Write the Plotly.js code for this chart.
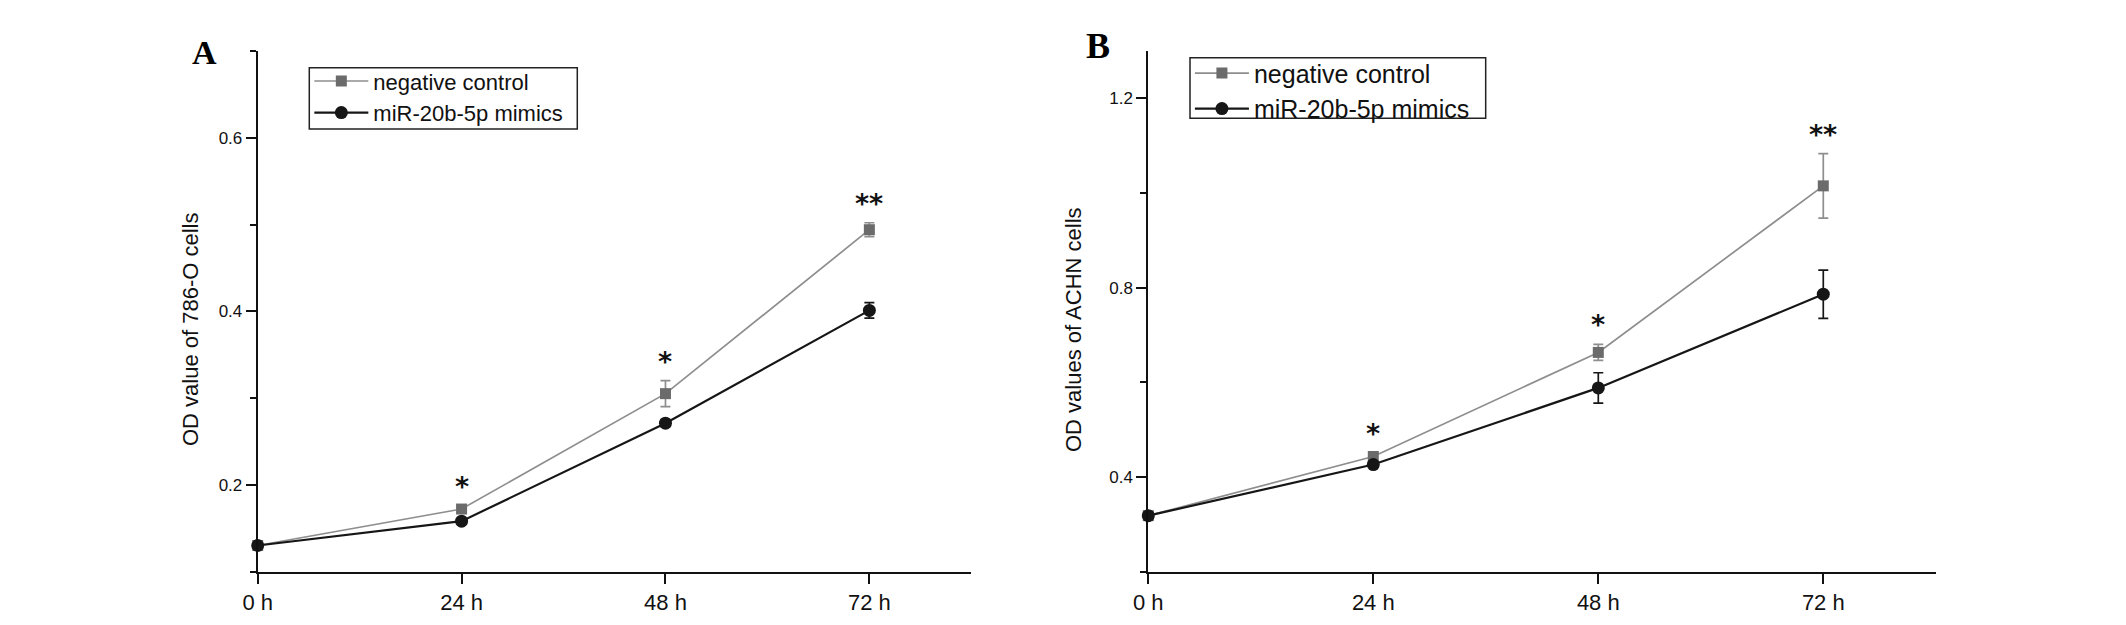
<!DOCTYPE html>
<html>
<head>
<meta charset="utf-8">
<script src="https://cdn.plot.ly/plotly-3.0.1.min.js"></script>
<style>html,body{margin:0;padding:0;background:#fff;}#chart{width:2126px;height:625px;}</style>
</head>
<body>
<div id="chart"></div>
<script>
// ---- data ----
const timePoints = [0, 24, 48, 72];
const timeLabels = ['0 h', '24 h', '48 h', '72 h'];
const seriesNames = ['negative control', 'miR-20b-5p mimics'];

const ncA = [0.130, 0.172, 0.305, 0.494];
const ncAErr = [0.003, 0.004, 0.015, 0.008];
const miA = [0.130, 0.158, 0.271, 0.401];
const miAErr = [0.003, 0.003, 0.004, 0.009];

const ncB = [0.318, 0.443, 0.663, 1.015];
const ncBErr = [0.006, 0.008, 0.017, 0.068];
const miB = [0.318, 0.426, 0.588, 0.786];
const miBErr = [0.006, 0.006, 0.032, 0.051];

const sigA = ['', '*', '*', '**'];
const sigB = ['', '*', '*', '**'];

const yTitleA = 'OD value of 786-O cells';
const yTitleB = 'OD values of ACHN cells';
const panelLabels = ['A', 'B'];

// ---- styles ----
const NC_LINE = '#8e8e8e', NC_MARK = '#6b6b6b';
const MI_COLOR = '#161616';
const SANS = 'Liberation Sans, Arial, sans-serif';

function ncTrace(y, err, xa, ya, lg) {
  return {
    x: timePoints, y: y, xaxis: xa, yaxis: ya, legend: lg,
    name: seriesNames[0], type: 'scatter', mode: 'lines+markers',
    line: {color: NC_LINE, width: 1.7},
    marker: {symbol: 'square', size: 11, color: NC_MARK},
    error_y: {type: 'data', array: err, visible: true, color: NC_LINE, thickness: 1.7, width: 5},
    cliponaxis: false
  };
}
function miTrace(y, err, xa, ya, lg) {
  return {
    x: timePoints, y: y, xaxis: xa, yaxis: ya, legend: lg,
    name: seriesNames[1], type: 'scatter', mode: 'lines+markers',
    line: {color: MI_COLOR, width: 2.2},
    marker: {symbol: 'circle', size: 13, color: MI_COLOR},
    error_y: {type: 'data', array: err, visible: true, color: MI_COLOR, thickness: 1.7, width: 5},
    cliponaxis: false
  };
}

const traces = [
  ncTrace(ncA, ncAErr, 'x', 'y', 'legend'),
  miTrace(miA, miAErr, 'x', 'y', 'legend'),
  ncTrace(ncB, ncBErr, 'x2', 'y2', 'legend2'),
  miTrace(miB, miBErr, 'x2', 'y2', 'legend2')
];

function xAxis(domain, anchor) {
  return {
    domain: domain, anchor: anchor, range: [0, 84],
    tickmode: 'array', tickvals: timePoints, ticktext: timeLabels,
    ticks: 'outside', ticklen: 10, tickwidth: 2, tickcolor: '#111',
    showline: true, linecolor: '#111', linewidth: 2,
    showgrid: false, zeroline: false,
    tickfont: {family: SANS, size: 22, color: '#111'}
  };
}
function yAxis(range, tick0, dtick, mtick0, mdtick, anchor) {
  return {
    domain: [0.0856, 0.9184], anchor: anchor, range: range,
    tick0: tick0, dtick: dtick,
    ticks: 'outside', ticklen: 10, tickwidth: 2, tickcolor: '#111',
    minor: {tick0: mtick0, dtick: mdtick, ticks: 'outside', ticklen: 6, tickwidth: 2, tickcolor: '#111'},
    showline: true, linecolor: '#111', linewidth: 2,
    showgrid: false, zeroline: false,
    tickfont: {family: SANS, size: 17, color: '#111'}
  };
}

const annotations = [];
const starFont = {family: 'DejaVu Sans', size: 27, color: '#111', weight: 'bold'};
timePoints.forEach((t, i) => {
  if (sigA[i]) annotations.push({x: t, y: ncA[i] + ncAErr[i], xref: 'x', yref: 'y', text: sigA[i],
    showarrow: false, yanchor: 'bottom', yshift: 2, font: starFont});
  if (sigB[i]) annotations.push({x: t, y: ncB[i] + ncBErr[i], xref: 'x2', yref: 'y2', text: sigB[i],
    showarrow: false, yanchor: 'bottom', yshift: 2, font: starFont});
});
// y-axis titles (placed as rotated text, as in the figure, slightly below axis centre)
const titleFont = {family: SANS, size: 22, color: '#111'};
annotations.push({x: 0.0894, y: 0.4736, xref: 'paper', yref: 'paper', text: yTitleA, textangle: -90,
  showarrow: false, xanchor: 'center', yanchor: 'middle', font: titleFont});
annotations.push({x: 0.5047, y: 0.4736, xref: 'paper', yref: 'paper', text: yTitleB, textangle: -90,
  showarrow: false, xanchor: 'center', yanchor: 'middle', font: titleFont});
// panel letters
annotations.push({x: 0.0964, y: 0.9168, xref: 'paper', yref: 'paper', text: '<b>' + panelLabels[0] + '</b>',
  showarrow: false, xanchor: 'center', yanchor: 'middle', font: {family: 'Liberation Serif, Times New Roman, serif', size: 34, color: '#000'}});
annotations.push({x: 0.5165, y: 0.9264, xref: 'paper', yref: 'paper', text: '<b>' + panelLabels[1] + '</b>',
  showarrow: false, xanchor: 'center', yanchor: 'middle', font: {family: 'Liberation Serif, Times New Roman, serif', size: 36, color: '#000'}});

// legend frames
const shapes = [
  {type: 'rect', xref: 'paper', yref: 'paper', x0: 0.14548, x1: 0.27154, y0: 0.7936, y1: 0.89168,
   line: {color: '#222', width: 1.5}, fillcolor: 'rgba(0,0,0,0)'},
  {type: 'rect', xref: 'paper', yref: 'paper', x0: 0.55974, x1: 0.69882, y0: 0.81072, y1: 0.90768,
   line: {color: '#222', width: 1.5}, fillcolor: 'rgba(0,0,0,0)'}
];

const legendBase = {
  xanchor: 'left', yanchor: 'top', bgcolor: 'rgba(255,255,255,0)',
  borderwidth: 0, tracegroupgap: 0, itemwidth: 54
};

const layout = {
  width: 2126, height: 625,
  margin: {l: 0, r: 0, t: 0, b: 0},
  paper_bgcolor: '#fff', plot_bgcolor: '#fff',
  showlegend: true,
  xaxis: xAxis([0.12121, 0.45687], 'y'),
  yaxis: yAxis([0.1, 0.7], 0.2, 0.2, 0.1, 0.1, 'x'),
  xaxis2: xAxis([0.54012, 0.91053], 'y2'),
  yaxis2: yAxis([0.2, 1.3], 0.4, 0.4, 0.2, 0.2, 'x2'),
  legend: Object.assign({}, legendBase, {x: 0.1455, y: 0.9037, font: {family: SANS, size: 22, color: '#111'}}),
  legend2: Object.assign({}, legendBase, {x: 0.5597, y: 0.9195, font: {family: SANS, size: 25, color: '#111'}}),
  shapes: shapes,
  annotations: annotations
};

Plotly.newPlot('chart', traces, layout, {displayModeBar: false, staticPlot: true});
</script>
</body>
</html>
